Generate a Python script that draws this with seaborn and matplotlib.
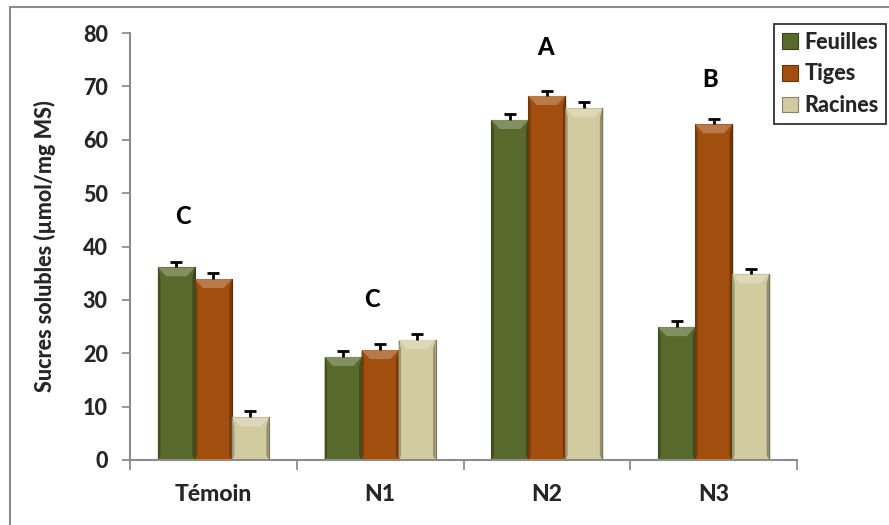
import matplotlib
matplotlib.use("Agg")
import matplotlib.pyplot as plt
from matplotlib.patches import Rectangle, Polygon
from matplotlib.colors import to_rgb
import numpy as np
import pandas as pd
import seaborn as sns

# Soluble sugar content per treatment and organ
treatments = ["Témoin", "N1", "N2", "N3"]
organs = ["Feuilles", "Tiges", "Racines"]
feuilles = [36.1, 19.3, 63.7, 24.9]
tiges = [33.9, 20.6, 68.2, 62.9]
racines = [8.0, 22.5, 65.9, 34.8]
err_feuilles = [1.0, 1.1, 1.1, 1.1]
err_tiges = [1.1, 1.1, 1.0, 1.0]
err_racines = [1.1, 1.1, 1.1, 1.0]

# Statistical group letters
letters = ["C", "C", "A", "B"]
letter_x = [-0.18, 0.95, 1.99, 2.98]
letter_y = [45.7, 30.0, 77.3, 71.2]

colors = ["#58692c", "#a24e0e", "#d3cba0"]

rows = []
for org, vals, errs in zip(organs, [feuilles, tiges, racines],
                           [err_feuilles, err_tiges, err_racines]):
    for t, v, e in zip(treatments, vals, errs):
        rows.append({"Traitement": t, "Organe": org, "Valeur": v, "Erreur": e})
df = pd.DataFrame(rows)

sns.set_style("white")
plt.rcParams["font.family"] = ["Lato", "DejaVu Sans"]
WEIGHT = "black"

fig = plt.figure(figsize=(8.89, 5.25), dpi=100)
ax = fig.add_axes([130 / 889, 1 - 460 / 525, 667 / 889, 427 / 525])

sns.barplot(data=df, x="Traitement", y="Valeur", hue="Organe",
            order=treatments, hue_order=organs, palette=colors,
            width=0.665, errorbar=None, saturation=1, ax=ax,
            edgecolor="none", linewidth=0)

def shade(c, f):
    r, g, b = to_rgb(c)
    if f >= 0:
        return (r + (1 - r) * f, g + (1 - g) * f, b + (1 - b) * f)
    return (r * (1 + f), g * (1 + f), b * (1 + f))

# Bevelled look and upward error bars for every bar
px_to_data_y = 80 / 427
for container, org, col in zip(ax.containers, organs, colors):
    errs = df[df["Organe"] == org]["Erreur"].to_numpy()
    xs, tops, ws = [], [], []
    for patch in container:
        x0 = patch.get_x()
        w = patch.get_width()
        h = patch.get_height()
        bev = min(9 * px_to_data_y, h / 2)
        dx = w * 0.22
        # soft shadow on the right
        ax.add_patch(Rectangle((x0 + w, 0), w * 0.04, h,
                               facecolor="#000000", alpha=0.12,
                               edgecolor="none", zorder=1.5))
        # darker sides
        ax.add_patch(Polygon([(x0, 0), (x0 + dx * 0.3, bev * 0.5),
                              (x0 + dx * 0.3, h - bev), (x0, h)],
                             closed=True, facecolor=shade(col, -0.25),
                             edgecolor="none", zorder=2.1))
        ax.add_patch(Polygon([(x0 + w, 0), (x0 + w - dx * 0.3, bev * 0.5),
                              (x0 + w - dx * 0.3, h - bev), (x0 + w, h)],
                             closed=True, facecolor=shade(col, -0.3),
                             edgecolor="none", zorder=2.1))
        # lighter top bevel
        ax.add_patch(Polygon([(x0, h), (x0 + w, h),
                              (x0 + w - dx, h - bev), (x0 + dx, h - bev)],
                             closed=True, facecolor=shade(col, 0.25),
                             edgecolor="none", zorder=2.2))
        patch.set_edgecolor(shade(col, -0.35))
        patch.set_linewidth(0.8)
        xs.append(x0 + w / 2)
        tops.append(h)
        ws.append(w)
    xs = np.array(xs)
    tops = np.array(tops)
    ws = np.array(ws)
    ax.vlines(xs, tops, tops + errs, colors="black", linewidth=2, zorder=3)
    ax.hlines(tops + errs, xs - ws * 0.16, xs + ws * 0.16, colors="black",
              linewidth=2, zorder=3)

for lx, ly, lt in zip(letter_x, letter_y, letters):
    ax.text(lx, ly, lt, ha="center", va="center", fontsize=17,
            fontweight=WEIGHT, color="black")

ax.set_ylim(0, 80)
ax.set_xlim(-0.5, 3.5)
ax.set_yticks(range(0, 81, 10))
ax.set_xlabel("")
ax.set_ylabel("Sucres solubles (µmol/mg MS)", fontsize=15.5,
              fontweight=WEIGHT, labelpad=19)

for s in ["top", "right"]:
    ax.spines[s].set_visible(False)
for s in ["left", "bottom"]:
    ax.spines[s].set_color("#8c8c8c")
    ax.spines[s].set_linewidth(1.5)

ax.set_xticks(np.arange(-0.5, 4.0, 1.0), minor=True)
ax.tick_params(axis="x", which="major", length=0, pad=17, labelsize=16.5)
ax.tick_params(axis="x", which="minor", length=7, width=1.3,
               color="#8c8c8c", direction="out", bottom=True)
ax.tick_params(axis="y", length=6, width=1.3, color="#8c8c8c",
               direction="out", left=True, pad=10, labelsize=15.5)
for lab in ax.get_xticklabels() + ax.get_yticklabels():
    lab.set_fontweight(WEIGHT)

leg = ax.legend(loc="upper right", bbox_to_anchor=(886 / 889, 1 - 24 / 525),
                bbox_transform=fig.transFigure, frameon=True, fancybox=False,
                edgecolor="black", fontsize=15.5, handlelength=0.75,
                handleheight=0.75, handletextpad=0.3, borderpad=0.35,
                labelspacing=0.5, borderaxespad=0)
leg.get_frame().set_linewidth(1.3)
for t in leg.get_texts():
    t.set_fontweight(WEIGHT)
for h, col in zip(leg.legend_handles, colors):
    h.set_edgecolor(shade(col, -0.35))
    h.set_linewidth(0.8)

# Outer chart frame
fig.patches.append(Rectangle((10 / 889, -0.5), 2.0, 1.5 - 7 / 525,
                             transform=fig.transFigure, fill=False,
                             edgecolor="#8c8c8c", linewidth=1.5))

fig.savefig("out.png", dpi=100)
